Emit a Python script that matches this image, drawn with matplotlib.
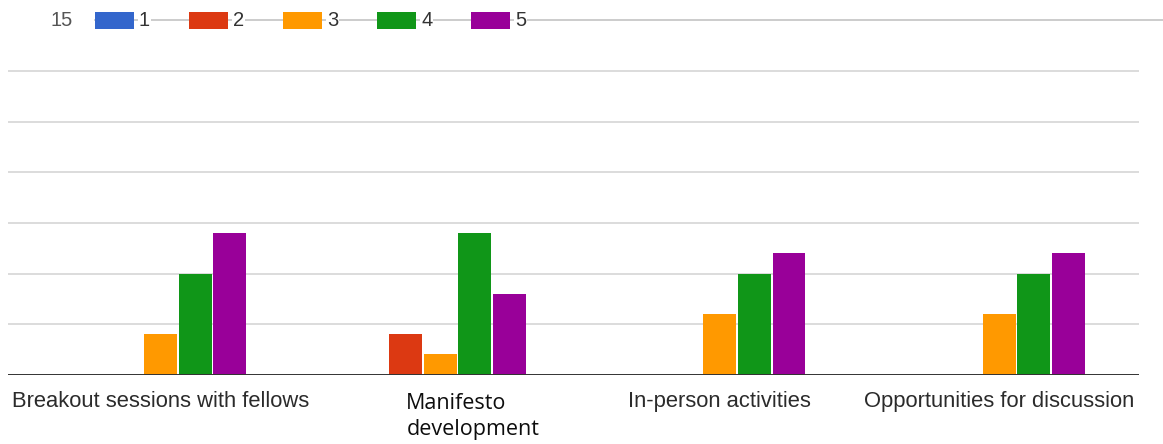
import numpy as np
import matplotlib.pyplot as plt
from matplotlib.patches import Rectangle
from matplotlib.lines import Line2D
from matplotlib.transforms import blended_transform_factory

plt.rcParams['font.family'] = ['Liberation Sans', 'DejaVu Sans']

# ---------------- data ----------------
categories = ["Breakout sessions with fellows",
              "Manifesto\ndevelopment",
              "In-person activities",
              "Opportunities for discussion"]
ratings = ["1", "2", "3", "4", "5"]
counts_1 = [0, 0, 0, 0]
counts_2 = [0, 2, 0, 0]
counts_3 = [2, 1, 3, 3]
counts_4 = [5, 7, 5, 5]
counts_5 = [7, 4, 6, 6]
series = [counts_1, counts_2, counts_3, counts_4, counts_5]
colors = ["#3366CC", "#DC3912", "#FF9900", "#109618", "#990099"]
corner_label = "15"

# ---------------- layout (pixels) ----------------
W, H = 1163, 444
fig = plt.figure(figsize=(W / 100, H / 100), dpi=100)
base_px, top_px = 374.7, 20.5
ax = fig.add_axes([8 / W, 1 - base_px / H, (1139 - 8) / W, (base_px - top_px) / H])
ax.set_facecolor('none')

pitch = 0.1238
width = 0.117
x = np.arange(len(categories))
for i, (vals, col) in enumerate(zip(series, colors)):
    ax.bar(x + (i - 2) * pitch, vals, width=width, color=col, zorder=3)

for v in np.arange(2.5, 17.5, 2.5):
    ax.axhline(v, color='#d9d9d9', lw=1.3, zorder=1)
ax.axhline(0, color='#333333', lw=1.4, zorder=4)

ax.set_xlim(-0.546, 3.50)
ax.set_ylim(0, 17.5)
ax.set_xticks([])
ax.set_yticks([])
for s in ax.spines.values():
    s.set_visible(False)

# top gridline runs under the legend to the right edge
fig.add_artist(Line2D([95 / W, 1.0], [1 - top_px / H] * 2, color='#c8c8c8', lw=1.3, zorder=0))

# category labels
trans = blended_transform_factory(ax.transData, fig.transFigure)
for k, cat in enumerate(categories):
    if '\n' in cat:
        for j, line in enumerate(cat.split('\n')):
            ax.text(k - 0.121, 1 - (409.3 + j * 25.7) / H, line, transform=trans,
                    ha='left', va='baseline', fontsize=15.5, color='#0d0d0d',
                    family=['Open Sans', 'DejaVu Sans'])
    else:
        ax.text(k, 1 - 406.7 / H, cat, transform=trans, ha='center', va='baseline',
                fontsize=15.8, color='#2b2b2b')

# legend drawn by hand
fig.text(50 / W, 1 - top_px / H, corner_label, va='center', ha='left',
         fontsize=14.5, color='#555555')
for i, (r, col) in enumerate(zip(ratings, colors)):
    x0 = 95 + i * 94
    fig.add_artist(Rectangle((x0 / W, 1 - 29.5 / H), 39 / W, 17.5 / H,
                             transform=fig.transFigure, facecolor=col,
                             edgecolor='none', zorder=2))
    fig.text((x0 + 44) / W, 1 - top_px / H, r, va='center', ha='left',
             fontsize=14.5, color='#333333', zorder=3,
             bbox=dict(facecolor='white', edgecolor='none', pad=0.6))

fig.savefig('out.png', dpi=100)
